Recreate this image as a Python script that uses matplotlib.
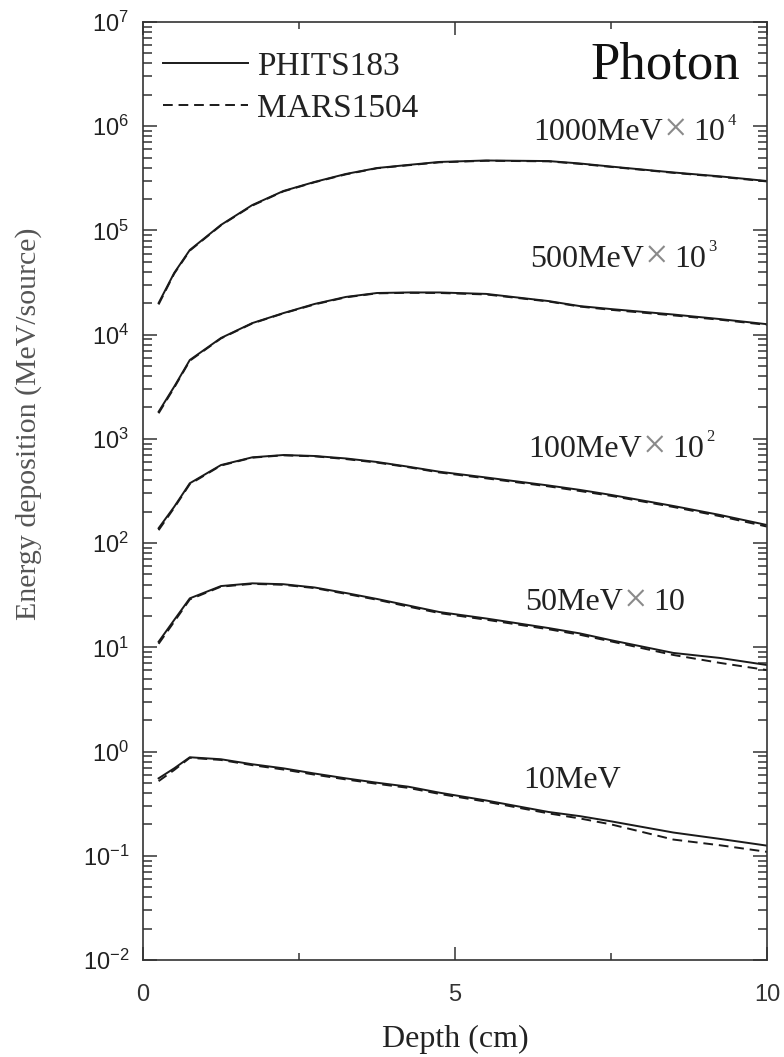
import numpy as np
import matplotlib
matplotlib.use("Agg")
import matplotlib.pyplot as plt
from matplotlib.ticker import FixedLocator, LogLocator, NullFormatter


SERIF = ["Liberation Serif", "DejaVu Serif"]

# depth points (cm)
depth = [0.25, 0.5, 0.75, 1.25, 1.75, 2.25, 2.75, 3.25, 3.75, 4.25,
         4.75, 5.5, 6.5, 7.0, 7.5, 8.5, 9.25, 10.0]

# energy deposition (MeV/source), already multiplied by the factor in the label
phits_1000 = [2.01e4, 3.91e4, 6.49e4, 1.13e5, 1.75e5, 2.39e5, 2.92e5, 3.48e5, 3.97e5,
              4.25e5, 4.54e5, 4.69e5, 4.63e5, 4.39e5, 4.10e5, 3.60e5, 3.30e5, 2.98e5]
mars_1000 = [1.95e4, 3.85e4, 6.40e4, 1.12e5, 1.73e5, 2.37e5, 2.90e5, 3.45e5, 3.95e5,
             4.22e5, 4.50e5, 4.66e5, 4.60e5, 4.35e5, 4.07e5, 3.57e5, 3.27e5, 2.95e5]

phits_500 = [1.82e3, 3.17e3, 5.71e3, 9.29e3, 1.29e4, 1.61e4, 1.97e4, 2.30e4, 2.51e4,
             2.54e4, 2.54e4, 2.46e4, 2.10e4, 1.88e4, 1.76e4, 1.56e4, 1.41e4, 1.26e4]
mars_500 = [1.76e3, 3.10e3, 5.62e3, 9.20e3, 1.28e4, 1.60e4, 1.95e4, 2.28e4, 2.49e4,
            2.52e4, 2.51e4, 2.43e4, 2.08e4, 1.86e4, 1.73e4, 1.53e4, 1.39e4, 1.24e4]

phits_100 = [139, 223, 375, 561, 665, 700, 685, 649, 600,
             541, 484, 426, 357, 324, 290, 227, 186, 149]
mars_100 = [133, 218, 368, 555, 660, 695, 680, 640, 592,
            535, 476, 418, 350, 316, 284, 222, 181, 144]

phits_50 = [11.3, 18.3, 29.5, 38.7, 41.1, 40.3, 37.5, 33.2, 29.1,
            25.2, 21.8, 18.9, 15.3, 13.6, 11.7, 8.83, 7.90, 6.76]
mars_50 = [10.8, 17.6, 28.8, 38.2, 40.6, 39.8, 37.0, 32.6, 28.6,
           24.6, 21.3, 18.4, 14.9, 13.2, 11.4, 8.44, 7.08, 6.05]

phits_10 = [0.553, 0.690, 0.881, 0.843, 0.755, 0.690, 0.615, 0.553, 0.502,
            0.460, 0.403, 0.339, 0.263, 0.240, 0.214, 0.167, 0.145, 0.125]
mars_10 = [0.520, 0.665, 0.870, 0.830, 0.740, 0.672, 0.600, 0.540, 0.490,
           0.448, 0.392, 0.330, 0.255, 0.228, 0.200, 0.143, 0.126, 0.109]

phits_curves = [phits_1000, phits_500, phits_100, phits_50, phits_10]
mars_curves = [mars_1000, mars_500, mars_100, mars_50, mars_10]

# curve labels: (energy text, exponent of the factor, "" for x10, None for no factor)
curve_labels = [("1000MeV", "4"), ("500MeV", "3"), ("100MeV", "2"),
                ("50MeV", ""), ("10MeV", None)]
label_pos = [(6.25, 7.4e5), (6.20, 4.49e4), (6.17, 675), (6.12, 22.8), (6.09, 0.447)]


def add_curve_label(ax, text, exp, x, y):
    fs = 23
    desc = 0.22 * fs  # text bbox bottom sits this far below the baseline
    t = ax.text(x, y, text, fontsize=fs, family=SERIF, color="#222222",
                ha="left", va="baseline")
    if exp is None:
        return
    ax.annotate("\u00d7", xy=(1, 0), xycoords=t, xytext=(1, desc - 1.5),
                textcoords="offset points", fontsize=30, family=SERIF,
                color="#8a8a8a", ha="left", va="baseline")
    ten = ax.annotate("10", xy=(1, 0), xycoords=t, xytext=(22, desc),
                      textcoords="offset points", fontsize=fs, family=SERIF,
                      color="#222222", ha="left", va="baseline")
    if exp:
        ax.annotate(exp, xy=(1, 0), xycoords=ten, xytext=(1.5, desc + 11),
                    textcoords="offset points", fontsize=12, family=SERIF,
                    color="#222222", ha="left", va="baseline")


def main():
    fig = plt.figure(figsize=(7.84, 10.57), dpi=100)
    ax = fig.add_axes([0.1824, 0.0918, 0.7959, 0.8874])

    for i, (p, m) in enumerate(zip(phits_curves, mars_curves)):
        ax.plot(depth, m, color="#1a1a1a", lw=1.4, ls=(0, (5, 3)),
                label="MARS1504" if i == 0 else None)
        ax.plot(depth, p, color="#1a1a1a", lw=1.4,
                label="PHITS183" if i == 0 else None)

    ax.set_yscale("log")
    ax.set_xlim(0, 10)
    ax.set_ylim(1e-2, 1e7)

    ax.xaxis.set_major_locator(FixedLocator([0, 5, 10]))
    ax.xaxis.set_minor_locator(FixedLocator([2.5, 7.5]))
    ax.set_xticklabels(["0", "5", "10"])

    decades = list(range(-2, 8))
    ax.yaxis.set_major_locator(FixedLocator([10.0 ** k for k in decades]))
    ax.set_yticklabels([rf"$\mathregular{{10^{{{k}}}}}$" for k in decades])
    ax.yaxis.set_minor_locator(LogLocator(base=10, subs=np.arange(2, 10), numticks=20))
    ax.yaxis.set_minor_formatter(NullFormatter())

    ax.tick_params(which="both", direction="in", top=True, right=True,
                   color="#333333", width=1.1)
    ax.tick_params(axis="y", which="major", length=10, pad=10, labelsize=17,
                   labelfontfamily="Liberation Sans", labelcolor="#222222")
    ax.tick_params(axis="y", which="minor", length=6.5)
    ax.tick_params(axis="x", which="major", length=9.5, pad=17, labelsize=17,
                   labelfontfamily="Liberation Sans", labelcolor="#333333")
    ax.tick_params(axis="x", which="minor", length=5)

    for sp in ax.spines.values():
        sp.set_linewidth(1.2)
        sp.set_color("#333333")

    ax.set_xlabel("Depth (cm)", fontsize=23, family=SERIF, color="#222222", labelpad=14)
    ax.set_ylabel("Energy deposition (MeV/source)", fontsize=21.5, family=SERIF,
                  color="#555555")
    ax.yaxis.set_label_coords(-0.162, 0.572)

    handles, labels = ax.get_legend_handles_labels()
    order = [labels.index("PHITS183"), labels.index("MARS1504")]
    leg = ax.legend([handles[i] for i in order], [labels[i] for i in order],
                    loc="upper left", bbox_to_anchor=(0.032, 0.969), frameon=False,
                    borderpad=0, borderaxespad=0, handlelength=2.55,
                    handletextpad=0.28, labelspacing=0.36,
                    prop={"family": SERIF, "size": 24})
    for txt in leg.get_texts():
        txt.set_color("#222222")

    ax.text(0.957, 0.940, "Photon", transform=ax.transAxes, fontsize=38,
            family=SERIF, color="#111111", ha="right", va="baseline")

    for (text, exp), (x, y) in zip(curve_labels, label_pos):
        add_curve_label(ax, text, exp, x, y)

    fig.savefig("out.png", dpi=100)


if __name__ == "__main__":
    main()
